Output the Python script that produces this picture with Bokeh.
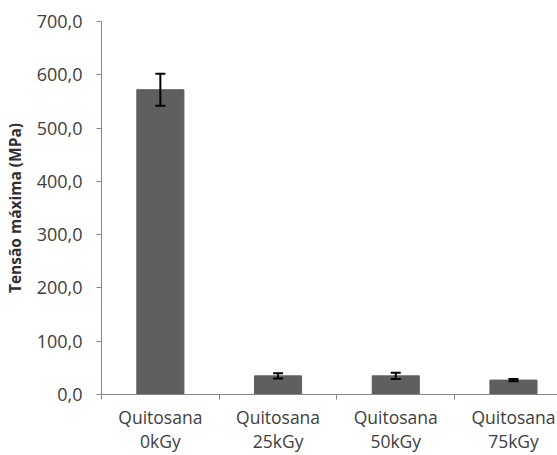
from bokeh.plotting import figure
from bokeh.models import Range1d, FixedTicker, Whisker, TeeHead, ColumnDataSource
from bokeh.embed import file_html
from bokeh.resources import INLINE

categories = ["Quitosana\n0kGy", "Quitosana\n25kGy", "Quitosana\n50kGy", "Quitosana\n75kGy"]
values = [572.0, 35.0, 35.0, 27.0]
errors = [30.0, 5.0, 6.0, 2.0]
y_ticks = [0, 100, 200, 300, 400, 500, 600, 700]
y_tick_labels = ["0,0", "100,0", "200,0", "300,0", "400,0", "500,0", "600,0", "700,0"]

xs = [i + 0.5 for i in range(len(categories))]
src = ColumnDataSource(dict(
    x=xs, top=values,
    upper=[v + e for v, e in zip(values, errors)],
    lower=[v - e for v, e in zip(values, errors)],
))

p = figure(width=557, height=455, output_backend="svg", toolbar_location=None,
           x_range=Range1d(0, 3.874), y_range=Range1d(0, 700),
           min_border_left=101, min_border_right=0, min_border_top=21, min_border_bottom=61)
p.outline_line_color = None
p.xgrid.visible = False
p.ygrid.visible = False
p.background_fill_color = "white"

p.vbar(x="x", top="top", width=0.4, source=src, fill_color="#5f5f5f", line_color="#5f5f5f")
w = Whisker(base="x", upper="upper", lower="lower", source=src, line_color="black", line_width=2,
            upper_head=TeeHead(size=10, line_color="black", line_width=2),
            lower_head=TeeHead(size=10, line_color="black", line_width=2))
w.level = "overlay"
p.add_layout(w)

font = "Open Sans"
ax = p.xaxis[0]
ax.ticker = FixedTicker(ticks=xs, minor_ticks=[0, 1, 2, 3, 4])
ax.major_label_overrides = {x: c for x, c in zip(xs, categories)}
ax.major_tick_out = 0
ax.major_tick_in = 0
ax.minor_tick_out = 5
ax.minor_tick_in = 0
ax.minor_tick_line_color = "#888888"
ax.axis_line_color = "#888888"
ax.major_label_text_font = font
ax.major_label_text_font_size = "17.5px"
ax.major_label_text_color = "#404040"
ax.major_label_standoff = 5
ax.major_label_text_line_height = 1.0

ay = p.yaxis[0]
ay.ticker = FixedTicker(ticks=y_ticks, minor_ticks=[])
ay.major_label_overrides = {t: l for t, l in zip(y_ticks, y_tick_labels)}
ay.major_tick_out = 5
ay.major_tick_in = 0
ay.major_tick_line_color = "#888888"
ay.axis_line_color = "#888888"
ay.major_label_text_font = font
ay.major_label_text_font_size = "18px"
ay.major_label_text_color = "#404040"
ay.major_label_standoff = 14
ay.axis_label = "Tensão máxima (MPa)"
ay.axis_label_text_font = font
ay.axis_label_text_font_style = "bold"
ay.axis_label_text_font_size = "15.5px"
ay.axis_label_text_color = "#303030"
ay.axis_label_standoff = 8

open("out.html", "w").write(file_html(p, INLINE))
